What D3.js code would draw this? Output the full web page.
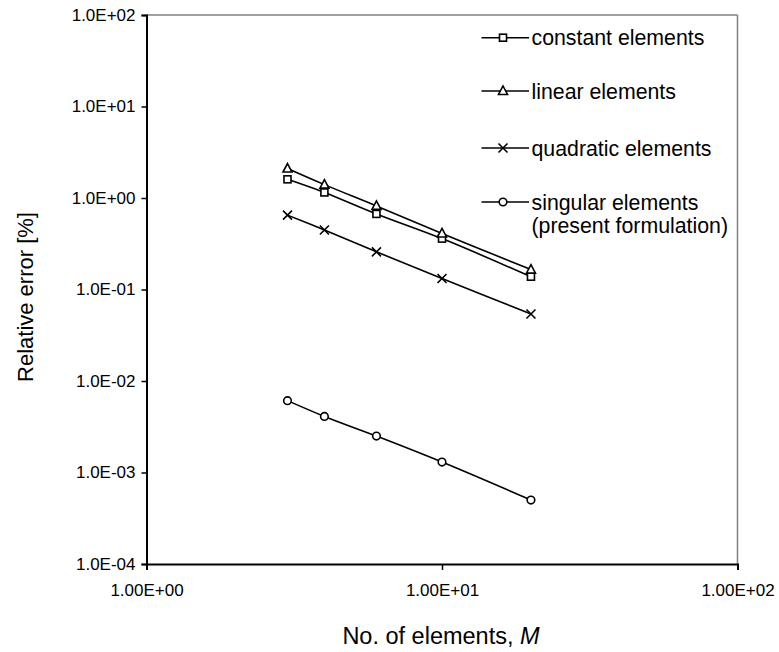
<!DOCTYPE html>
<html>
<head>
<meta charset="utf-8">
<script src="https://cdn.jsdelivr.net/npm/d3@7"></script>
<style>
  body { margin: 0; background: #fff; }
  svg text { font-family: "Liberation Sans", Arial, sans-serif; fill: #000; }
</style>
</head>
<body>
<div id="chart"></div>
<script>
// number of elements
var elements = [3, 4, 6, 10, 20];

// relative error [%] per formulation
var constantErr  = [1.6, 1.15, 0.67, 0.36, 0.138];
var linearErr    = [2.1, 1.4, 0.82, 0.41, 0.165];
var quadraticErr = [0.65, 0.447, 0.258, 0.132, 0.054];
var singularErr  = [0.0061, 0.0041, 0.0025, 0.0013, 0.0005];

var seriesNames = ["constant elements", "linear elements", "quadratic elements", "singular elements"];
var markers = ["square", "triangle", "cross", "circle"];

var xTicks = [1, 10, 100];
var yTicks = [1e-4, 1e-3, 1e-2, 1e-1, 1, 10, 100];

var width = 779, height = 652;
var margin = {top: 15, right: 41.5, bottom: 88, left: 146.5};

var svg = d3.select("#chart").append("svg")
    .attr("width", width)
    .attr("height", height);

var x = d3.scaleLog()
    .domain([1, 100])
    .range([margin.left, width - margin.right]);

var y = d3.scaleLog()
    .domain([1e-4, 100])
    .range([height - margin.bottom, margin.top]);

// top and right border in gray
svg.append("line")
    .attr("x1", x(1)).attr("x2", x(100))
    .attr("y1", y(100)).attr("y2", y(100))
    .attr("stroke", "#808080").attr("stroke-width", 1.5);
svg.append("line")
    .attr("x1", x(100)).attr("x2", x(100))
    .attr("y1", y(100)).attr("y2", y(1e-4))
    .attr("stroke", "#808080").attr("stroke-width", 1.5);

// Excel style exponent labels, e.g. 1.0E+02
function excelFmt(spec) {
  return function(d) {
    return d3.format(spec)(d).replace(/e([+-])(\d)$/, "E$10$2").replace("e", "E");
  };
}

var xAxis = d3.axisBottom(x)
    .tickValues(xTicks)
    .tickSize(6)
    .tickPadding(14)
    .tickFormat(excelFmt(".2e"));

var yAxis = d3.axisLeft(y)
    .tickValues(yTicks)
    .tickSize(5)
    .tickPadding(6)
    .tickFormat(excelFmt(".1e"));

var gx = svg.append("g")
    .attr("transform", "translate(0," + y(1e-4) + ")")
    .call(xAxis);
var gy = svg.append("g")
    .attr("transform", "translate(" + x(1) + ",0)")
    .call(yAxis);

[gx, gy].forEach(function(g) {
  g.select(".domain").attr("stroke", "#000").attr("stroke-width", 2);
  g.selectAll(".tick line").attr("stroke", "#000").attr("stroke-width", 1.5);
  g.selectAll(".tick text").style("font-size", "17px").attr("fill", "#000");
});

// axis titles
svg.append("text")
    .attr("x", x(10) - 1)
    .attr("y", 644)
    .attr("text-anchor", "middle")
    .style("font-size", "23.5px")
    .text("No. of elements, ")
  .append("tspan")
    .style("font-style", "italic")
    .text("M");

svg.append("text")
    .attr("transform", "translate(33," + 297 + ") rotate(-90)")
    .attr("text-anchor", "middle")
    .style("font-size", "22px")
    .text("Relative error [%]");

// markers
function drawMarker(g, type, cx, cy) {
  if (type === "square") {
    g.append("rect")
        .attr("x", cx - 3.5).attr("y", cy - 3.5)
        .attr("width", 7).attr("height", 7)
        .attr("fill", "#fff").attr("stroke", "#000").attr("stroke-width", 1.6);
  } else if (type === "triangle") {
    g.append("path")
        .attr("d", "M" + cx + "," + (cy - 5) + "L" + (cx + 4.5) + "," + (cy + 3.5) + "L" + (cx - 4.5) + "," + (cy + 3.5) + "Z")
        .attr("fill", "#fff").attr("stroke", "#000").attr("stroke-width", 1.6);
  } else if (type === "cross") {
    g.append("path")
        .attr("d", "M" + (cx - 4.5) + "," + (cy - 4.5) + "L" + (cx + 4.5) + "," + (cy + 4.5) +
                   "M" + (cx + 4.5) + "," + (cy - 4.5) + "L" + (cx - 4.5) + "," + (cy + 4.5))
        .attr("fill", "none").attr("stroke", "#000").attr("stroke-width", 1.6);
  } else {
    g.append("circle")
        .attr("cx", cx).attr("cy", cy).attr("r", 3.8)
        .attr("fill", "#fff").attr("stroke", "#000").attr("stroke-width", 1.6);
  }
}

var allSeries = [constantErr, linearErr, quadraticErr, singularErr];

var line = d3.line()
    .x(function(d, i) { return x(elements[i]); })
    .y(function(d) { return y(d); })
    .curve(d3.curveCatmullRom);

var plot = svg.append("g");

allSeries.forEach(function(vals) {
  plot.append("path")
      .datum(vals)
      .attr("d", line)
      .attr("fill", "none")
      .attr("stroke", "#000")
      .attr("stroke-width", 1.6);
});

allSeries.forEach(function(vals, s) {
  vals.forEach(function(v, i) {
    drawMarker(plot, markers[s], x(elements[i]), y(v));
  });
});

// legend
var legendY = [37.7, 91, 148, 202];
var legend = svg.append("g");
seriesNames.forEach(function(name, s) {
  var ly = legendY[s];
  legend.append("line")
      .attr("x1", 481.5).attr("x2", 529)
      .attr("y1", ly).attr("y2", ly)
      .attr("stroke", "#000").attr("stroke-width", 1.6);
  drawMarker(legend, markers[s], 503, ly);
  legend.append("text")
      .attr("x", 531.5)
      .attr("y", ly + 7.5)
      .style("font-size", "21.3px")
      .text(name);
});
legend.append("text")
    .attr("x", 531.5)
    .attr("y", 225 + 7.5)
    .style("font-size", "21.3px")
    .text("(present formulation)");
</script>
</body>
</html>
